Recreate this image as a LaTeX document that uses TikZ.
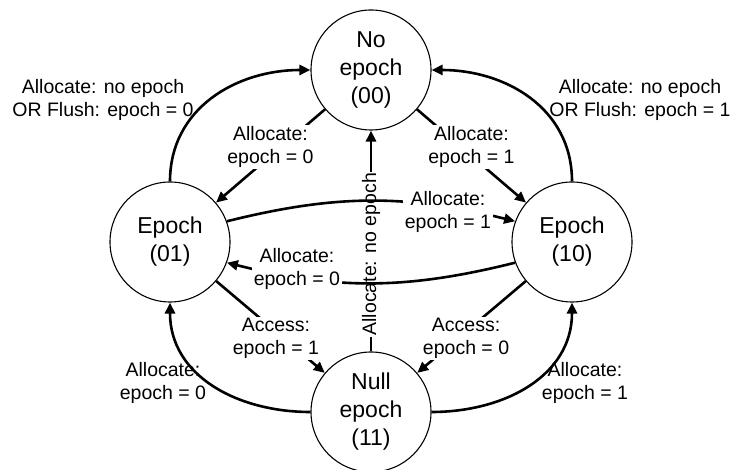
\documentclass[tikz,border=0pt]{standalone}
\usepackage{fontspec}
\setmainfont{Liberation Sans}
\usetikzlibrary{arrows.meta}

\begin{document}
\begin{tikzpicture}[x=1pt,y=1pt,
    state/.style={circle,draw,line width=1.1pt,minimum size=120pt,inner sep=0pt,
      align=center,font=\fontsize{23}{28}\selectfont},
    lbl/.style={fill=white,inner sep=1.5pt,align=center,font=\fontsize{19.5}{23}\selectfont},
    arr/.style={-{Triangle[length=11pt,width=10pt]},line width=2.6pt}]
  \useasboundingbox (0,0) rectangle (733,470);
  \node[state] (none) at (371,400) {No\\epoch\\(00)};
  \node[state] (ep01) at (170,228) {Epoch\\(01)};
  \node[state] (ep10) at (572,228) {Epoch\\(10)};
  \node[state] (null) at (371,58) {Null\\epoch\\(11)};
  % outer arcs
  \draw[arr] (ep01.north) to[out=90,in=180,looseness=1.05] (none.west);
  \draw[arr] (ep10.north) to[out=90,in=0,looseness=1.05] (none.east);
  \draw[arr] (null.west) to[out=180,in=-90,looseness=1.05] (ep01.south);
  \draw[arr] (null.east) to[out=0,in=-90,looseness=1.05] (ep10.south);
  \node[lbl,fill=none] (flush0) at (103,370) {Allocate: no epoch\\OR Flush: epoch = 0};
  \node[lbl,fill=none] (flush1) at (640,370) {Allocate: no epoch\\OR Flush: epoch = 1};
  \node[lbl,fill=none] (alloc0) at (163,87) {Allocate:\\epoch = 0};
  \node[lbl,fill=none] (alloc1) at (585,87) {Allocate:\\epoch = 1};
  % inner edges
  \draw[arr] (null) -- node[lbl,rotate=90,pos=0.44] {Allocate: no epoch} (none);
  \draw[arr] (none) -- node[lbl,pos=0.5,yshift=9pt] {Allocate:\\epoch = 0} (ep01);
  \draw[arr] (none) -- node[lbl,pos=0.5,yshift=9pt] {Allocate:\\epoch = 1} (ep10);
  \draw[arr] (ep01) -- node[lbl,pos=0.55,yshift=-7pt] {Access:\\epoch = 1} (null);
  \draw[arr] (ep10) -- node[lbl,pos=0.55,yshift=-7pt] {Access:\\epoch = 0} (null);
  \draw[arr] (ep01.20) to[out=14,in=166] node[lbl,pos=0.78,yshift=-5pt] {Allocate:\\epoch = 1} (ep10.160);
  \draw[arr] (ep10.200) to[out=194,in=-14] node[lbl,pos=0.77,yshift=8pt] {Allocate:\\epoch = 0} (ep01.-20);
\end{tikzpicture}
\end{document}
